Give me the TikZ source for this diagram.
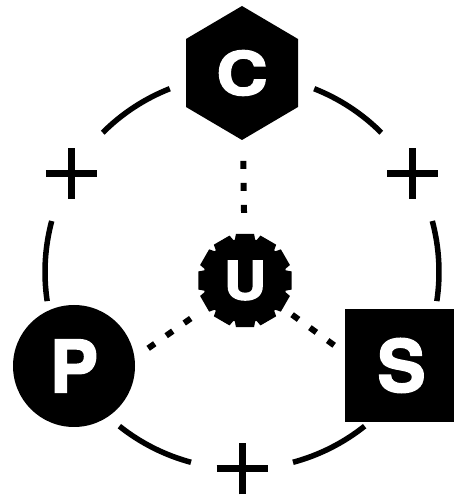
\documentclass[tikz,border=0pt]{standalone}
\usepackage{fontspec}
\setmainfont{TeX Gyre Heros}[BoldFeatures={FakeBold=2.5}]
\usetikzlibrary{backgrounds}
\begin{document}
\begin{tikzpicture}[x=1pt,y=1pt,
  ring/.style={line width=5.5pt},
  linkdots/.style={line width=6pt, dash pattern=on 8pt off 14pt},
  plusbar/.style={line width=7pt},
  letter/.style={text=white, inner sep=0pt, font=\bfseries\fontsize{#1}{#1}\selectfont}]
\useasboundingbox (0,0) rectangle (454,495);
\coordinate (O) at (242,223);
% ring segments
\foreach \s/\e in {111.5/135, 45/68.5, 165/188.5, 231.5/255, 285/308.5, -8.5/15}
  \draw[ring] ([shift={(\s:197)}]O) arc[start angle=\s, end angle=\e, radius=197];
% plus signs
\coordinate (plusL) at (71.4,321.5);
\coordinate (plusR) at (412.6,321.5);
\coordinate (plusB) at (242,26);
\foreach \p in {plusL,plusR,plusB}{
  \draw[plusbar] ([xshift=-25.5]\p) -- ([xshift=25.5]\p);
  \draw[plusbar] ([yshift=-25.5]\p) -- ([yshift=25.5]\p);
}
% C hexagon
\fill (242,489) -- (298,456) -- (298,388) -- (242,355) -- (186,388) -- (186,456) -- cycle;
\node[minimum width=112, minimum height=134, inner sep=0pt] (C) at (242,422) {};
\node[letter=60, xscale=1.18] (Ctext) at (C.center) {C};
% P circle
\node[circle, fill=black, minimum size=122, letter=72] (P) at (74,129) {P};
% S square
\node[fill=black, minimum size=113, letter=72] (S) at (401.5,129.5) {S};
% U gear
\coordinate (Uc) at (245,214.5);
\fill[shift={(Uc)}] (-14:42) \foreach \a in {0,30,...,330} { -- ({\a-14}:42) -- ({\a-11}:47.5) -- ({\a+11}:47.5) -- ({\a+14}:42) } -- cycle;
\node[circle, minimum size=95, inner sep=0pt] (U) at (Uc) {};
\node[letter=53, xscale=1.1] (Utext) at (U.center) {U};
% free ends of the dotted links
\coordinate (pLink) at ([shift={(215:118.5)}]Uc);
\coordinate (sLink) at ([shift={(324:111)}]Uc);
% dotted links
\begin{pgfonlayer}{background}
\draw[linkdots, shorten <=20pt, shorten >=20.5pt] (U) -- (C);
\draw[linkdots, shorten <=18.5pt] (U) -- (pLink);
\draw[linkdots, shorten <=10.5pt] (U) -- (sLink);
\end{pgfonlayer}
\end{tikzpicture}
\end{document}
